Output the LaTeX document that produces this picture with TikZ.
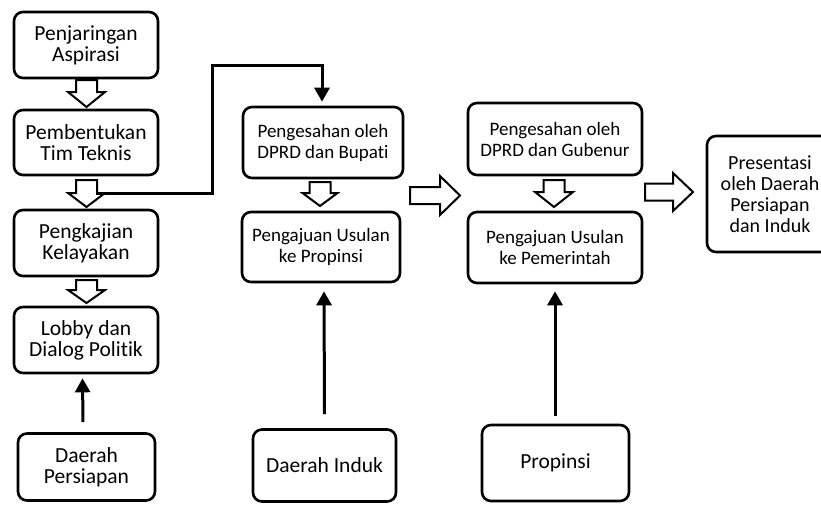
\documentclass[tikz,border=0pt]{standalone}
\usepackage{fontspec}
\setmainfont{Carlito}[Ligatures=NoCommon]
\usetikzlibrary{arrows.meta}
\tikzset{
  box/.style={draw, line width=2.6pt, rounded corners=9pt, align=center, inner sep=0pt,
    font=\fontsize{21.5}{21}\selectfont},
  smallbox/.style={box, font=\fontsize{19}{21}\selectfont},
  blk/.style={draw, line width=2pt, fill=white, line join=miter},
  thinarrow/.style={line width=3pt, -{Triangle[width=15pt,length=14pt]}}
}
\newcommand\blockdown[5]{% x, y0, y1, tip, head half width
  \draw[blk] ({#1-10.5},#2) -- ({#1+10.5},#2) -- ({#1+10.5},#3) -- ({#1+#5},#3) -- (#1,#4)
    -- ({#1-#5},#3) -- ({#1-10.5},#3) -- cycle;}
\newcommand\blockright[6]{% x0, x1, tip, cy, shaft half, head half
  \draw[blk] (#1,{#4-#5}) -- (#2,{#4-#5}) -- (#2,{#4-#6}) -- (#3,#4) -- (#2,{#4+#6})
    -- (#2,{#4+#5}) -- (#1,{#4+#5}) -- cycle;}
\begin{document}
\begin{tikzpicture}[x=1pt,y=-1pt]
\useasboundingbox (0,0) rectangle (821,504);
\clip (0,0) rectangle (821,504);
% left column
\node[box, minimum width=144pt, minimum height=66pt] (b1) at (86,45) {Penjaringan\\Aspirasi};
\node[box, minimum width=144pt, minimum height=65pt] (b2) at (86,142.5) {Pembentukan\\Tim Teknis};
\node[box, minimum width=144pt, minimum height=66pt] (b3) at (86,243) {Pengkajian\\Kelayakan};
\node[box, minimum width=144pt, minimum height=66pt] (b4) at (86,340) {Lobby dan\\Dialog Politik};
\node[box, minimum width=137pt, minimum height=67pt] (b5) at (86.5,467) {Daerah\\Persiapan};
% second column
\node[smallbox, minimum width=160pt, minimum height=71pt] (b6) at (323,142.5) {Pengesahan oleh\\DPRD dan Bupati};
\node[smallbox, minimum width=158pt, minimum height=70pt] (b7) at (321,247) {Pengajuan Usulan\\ke Propinsi};
\node[box, minimum width=143pt, minimum height=72pt] (b8) at (324.5,465.5) {Daerah Induk};
% third column
\node[smallbox, minimum width=174pt, minimum height=72pt] (b9) at (555,139) {Pengesahan oleh\\DPRD dan Gubenur};
\node[smallbox, minimum width=174pt, minimum height=71pt] (b10) at (555,247.5) {Pengajuan Usulan\\ke Pemerintah};
\node[box, minimum width=147pt, minimum height=76pt] (b11) at (555.5,463) {Propinsi};
% fourth column
\node[box, font=\fontsize{20}{21}\selectfont, minimum width=126pt, minimum height=116pt] (b12) at (770,194) {Presentasi\\oleh Daerah\\Persiapan\\dan Induk};
% block arrows
\blockdown{86.5}{80}{92}{107}{18.5}
\blockdown{86.5}{180}{193}{207}{18.5}
\blockdown{86.5}{280}{290}{303}{18.5}
\blockdown{320}{182}{193}{206}{17.5}
\blockdown{554}{180}{192}{207}{19}
\blockright{410}{440}{460}{195.5}{8.5}{19.5}
\blockright{645}{673}{693}{192}{8.5}{19}
% connectors
\coordinate (c0) at (96,193);
\coordinate (c1) at (212,65);
\draw[thinarrow] (c0) -| (c1) -| ([xshift=-1pt,yshift=4pt]b6.north);
\draw[thinarrow] ([xshift=-3.5pt,yshift=10pt]b5.north) -- ([xshift=-3.5pt,yshift=-4pt]b4.south);
\draw[thinarrow] ([xshift=0pt,yshift=14pt]b8.north) -- ([xshift=3pt,yshift=-8pt]b7.south);
\draw[thinarrow] ([xshift=-0.5pt,yshift=8pt]b11.north) -- ([xshift=0pt,yshift=-7pt]b10.south);
\end{tikzpicture}
\end{document}
